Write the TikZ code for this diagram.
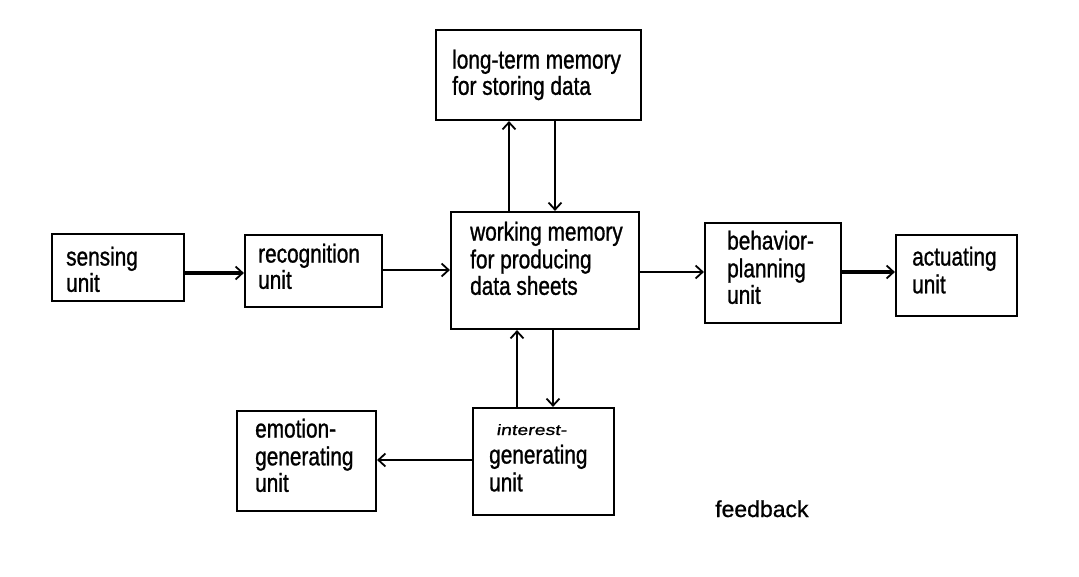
\documentclass[tikz,border=0pt]{standalone}
\usepackage{fontspec}
\setmainfont{Liberation Sans}[FakeStretch=0.8,FakeBold=1]
\newfontfamily\intfont{Liberation Sans}[FakeStretch=1.3,FakeSlant=0.15,FakeBold=1]
\newfontfamily\fbfont{Liberation Sans}[FakeBold=0.8]
\usetikzlibrary{arrows.meta}
\newcommand{\boxsz}{\fontsize{26}{26.5}\selectfont}
\tikzset{
  blk/.style={draw, line width=2.2pt, inner sep=0pt, fill=white},
  lbl/.style={anchor=north west, inner sep=0pt, align=left, font=\boxsz},
  arr/.style={line width=2pt, -{Straight Barb[length=7pt,width=13pt,line width=1.8pt]}},
  thickarr/.style={arr, line width=3.2pt}
}
\begin{document}
\begin{tikzpicture}[x=1pt,y=-1pt]
\fill[white] (0,0) rectangle (1079,577);
\useasboundingbox (0,0) rectangle (1079,577);
% boxes
\node[blk, minimum width=205, minimum height=90] (lt) at (538.5,75) {};
\node[blk, minimum width=188, minimum height=117] (wm) at (545,270.5) {};
\node[blk, minimum width=132, minimum height=67] (sens) at (118,267.5) {};
\node[blk, minimum width=137, minimum height=72] (rec) at (313.5,271) {};
\node[blk, minimum width=136, minimum height=100] (beh) at (773,273) {};
\node[blk, minimum width=121, minimum height=81] (act) at (956.5,275.5) {};
\node[blk, minimum width=139, minimum height=100] (emo) at (306.5,461) {};
\node[blk, minimum width=141, minimum height=107] (int) at (543.5,461.5) {};
% texts (top = first baseline - strut height)
\node[lbl] (tlt) at (452,49.5) {\strut long-term memory\\[-1.5pt]for storing data};
\node[lbl] (tsens) at (66,246.5) {\strut sensing\\[-1.5pt]unit};
\node[lbl] (trec) at (258,243.5) {\strut recognition\\[-1.5pt]unit};
\node[lbl] (twm) at (470,221.5) {\strut working memory\\for producing\\data sheets};
\node[lbl] (tbeh) at (727,230.5) {\strut behavior-\\planning\\unit};
\node[lbl] (tact) at (912,246.5) {\strut actuating\\unit};
\node[lbl] (temo) at (255,418.5) {\strut emotion-\\generating\\unit};
\node[anchor=base west, inner sep=0pt, font=\intfont\fontsize{15}{15}\selectfont] (tint1) at (496,435) {interest-};
\node[lbl] (tint2) at (489,444.5) {\strut generating\\unit};
\node[anchor=base west, inner sep=0pt, font=\fbfont\fontsize{23}{23}\selectfont] (fb) at (715,517) {feedback};
% helper coordinates
\coordinate (xa) at (509,0);
\coordinate (xb) at (555,0);
\coordinate (xc) at (517,0);
\coordinate (xd) at (553,0);
\coordinate (ya) at (0,273);
\coordinate (yb) at (0,270);
\coordinate (yc) at (0,272);
\coordinate (yd) at (0,460);
% connectors
\draw[arr] (xa |- wm.north) -- (xa |- lt.south);
\draw[arr] (xb |- lt.south) -- (xb |- wm.north);
\draw[thickarr] (sens.east |- ya) -- (rec.west |- ya);
\draw[arr] (rec.east |- yb) -- (wm.west |- yb);
\draw[arr, line width=2.6pt] (wm.east |- yc) -- (beh.west |- yc);
\draw[thickarr] (beh.east |- yc) -- (act.west |- yc);
\draw[arr] (xc |- int.north) -- (xc |- wm.south);
\draw[arr] (xd |- wm.south) -- (xd |- int.north);
\draw[arr, line width=2.6pt] (int.west |- yd) -- (emo.east |- yd);
\end{tikzpicture}
\end{document}
